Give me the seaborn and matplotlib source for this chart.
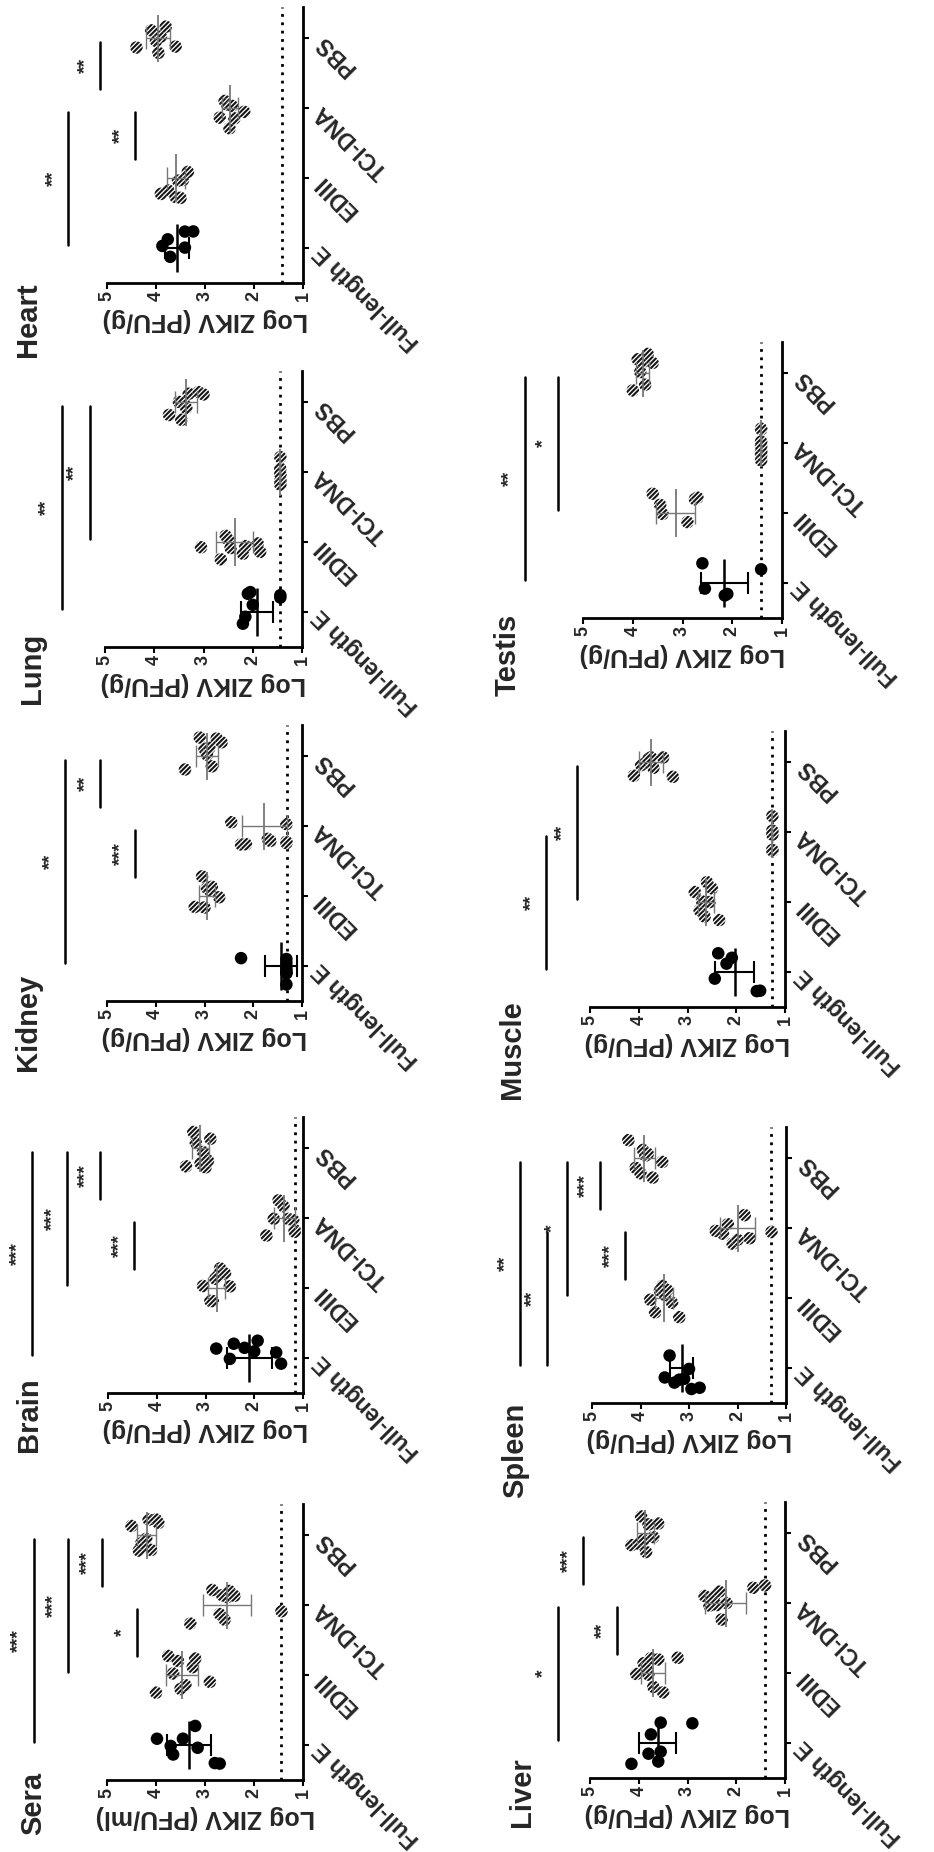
import numpy as np
import pandas as pd
import matplotlib
matplotlib.use("Agg")
import matplotlib.pyplot as plt
import seaborn as sns

sns.set_theme(style="ticks")
plt.rcParams["font.family"] = ["Liberation Sans", "DejaVu Sans"]
plt.rcParams["hatch.linewidth"] = 1.5

# ---------------- data ----------------
groups = ["Full-length E", "EDIII", "TCI-DNA", "PBS"]
organs = ["Heart", "Lung", "Kidney", "Brain", "Sera", "Testis", "Muscle", "Spleen", "Liver"]

sera_fle = [3.98, 3.70, 3.65, 3.45, 3.20, 3.15, 2.80, 2.70]
sera_ediii = [4.00, 3.75, 3.65, 3.55, 3.50, 3.40, 3.25, 3.20, 2.90]
sera_tci = [3.30, 2.85, 2.70, 2.65, 2.60, 2.55, 2.50, 2.40, 1.44]
sera_pbs = [4.50, 4.35, 4.30, 4.20, 4.15, 4.10, 4.00, 3.95]

brain_fle = [2.78, 2.50, 2.42, 2.20, 2.00, 1.93, 1.55, 1.45]
brain_ediii = [3.05, 2.90, 2.85, 2.80, 2.75, 2.70, 2.60, 2.50]
brain_tci = [1.75, 1.60, 1.50, 1.40, 1.30, 1.20, 1.17, 1.17]
brain_pbs = [3.40, 3.25, 3.20, 3.10, 3.05, 3.00, 2.95, 2.90]

kidney_fle = [2.25, 1.32, 1.32, 1.32, 1.32, 1.32, 1.32, 1.32]
kidney_ediii = [3.20, 3.05, 3.00, 2.95, 2.90, 2.85, 2.70]
kidney_tci = [2.45, 2.25, 2.15, 1.70, 1.65, 1.32, 1.32, 1.32]
kidney_pbs = [3.40, 3.10, 3.00, 2.95, 2.90, 2.85, 2.75, 2.65]

lung_fle = [2.20, 2.15, 2.10, 2.05, 2.00, 1.44, 1.44]
lung_ediii = [3.05, 2.65, 2.55, 2.50, 2.45, 2.20, 2.15, 1.90, 1.85]
lung_tci = [1.44, 1.44, 1.44, 1.44, 1.44, 1.44, 1.44, 1.44]
lung_pbs = [3.70, 3.50, 3.45, 3.40, 3.35, 3.30, 3.10, 3.00]

heart_fle = [3.87, 3.76, 3.71, 3.41, 3.41, 3.24]
heart_ediii = [3.90, 3.75, 3.60, 3.55, 3.50, 3.45, 3.35]
heart_tci = [2.70, 2.60, 2.55, 2.50, 2.45, 2.40, 2.20]
heart_pbs = [4.40, 4.10, 4.00, 3.95, 3.90, 3.80, 3.60]

liver_fle = [4.15, 3.80, 3.75, 3.60, 3.55, 3.55, 2.90]
liver_ediii = [4.05, 3.90, 3.85, 3.80, 3.75, 3.70, 3.60, 3.50, 3.20]
liver_tci = [2.65, 2.55, 2.45, 2.40, 2.35, 2.30, 2.20, 1.65, 1.41]
liver_pbs = [4.15, 4.00, 3.95, 3.90, 3.85, 3.80, 3.70, 3.60]

spleen_fle = [3.50, 3.40, 3.30, 3.20, 3.10, 3.00, 2.95, 2.78]
spleen_ediii = [3.80, 3.70, 3.60, 3.55, 3.50, 3.45, 3.35, 3.20]
spleen_tci = [2.45, 2.30, 2.20, 2.10, 2.00, 1.85, 1.75, 1.30]
spleen_pbs = [4.25, 4.10, 4.00, 3.95, 3.90, 3.85, 3.75, 3.55]

muscle_fle = [2.44, 2.37, 2.20, 2.09, 1.58, 1.51]
muscle_ediii = [2.85, 2.75, 2.70, 2.65, 2.60, 2.55, 2.50, 2.35]
muscle_tci = [1.26, 1.26, 1.26, 1.26, 1.26, 1.26, 1.26, 1.26]
muscle_pbs = [4.10, 3.95, 3.85, 3.80, 3.75, 3.70, 3.50, 3.30]

testis_fle = [2.60, 2.55, 2.15, 2.10, 1.42]
testis_ediii = [3.60, 3.45, 3.40, 2.90, 2.75, 2.70]
testis_tci = [1.42, 1.42, 1.42, 1.42, 1.42, 1.42, 1.42, 1.42]
testis_pbs = [4.00, 3.90, 3.85, 3.80, 3.75, 3.70, 3.60]

values = {
    "Sera": [sera_fle, sera_ediii, sera_tci, sera_pbs],
    "Brain": [brain_fle, brain_ediii, brain_tci, brain_pbs],
    "Kidney": [kidney_fle, kidney_ediii, kidney_tci, kidney_pbs],
    "Lung": [lung_fle, lung_ediii, lung_tci, lung_pbs],
    "Heart": [heart_fle, heart_ediii, heart_tci, heart_pbs],
    "Liver": [liver_fle, liver_ediii, liver_tci, liver_pbs],
    "Spleen": [spleen_fle, spleen_ediii, spleen_tci, spleen_pbs],
    "Muscle": [muscle_fle, muscle_ediii, muscle_tci, muscle_pbs],
    "Testis": [testis_fle, testis_ediii, testis_tci, testis_pbs],
}

# limit of detection per organ
lod = {"Sera": 1.44, "Brain": 1.17, "Kidney": 1.30, "Lung": 1.44, "Heart": 1.42,
       "Liver": 1.41, "Spleen": 1.30, "Muscle": 1.26, "Testis": 1.42}

# significance brackets: (group a, group b, level, label)
sig = {
    "Sera": [(0, 3, 6.50, "***"), (1, 3, 5.79, "***"), (2, 3, 5.10, "***"), (1, 2, 4.39, "*")],
    "Brain": [(0, 3, 6.56, "***"), (1, 3, 5.84, "***"), (2, 3, 5.16, "***"), (1, 2, 4.47, "***")],
    "Kidney": [(0, 3, 5.86, "**"), (1, 2, 4.43, "***"), (2, 3, 5.14, "**")],
    "Lung": [(0, 3, 5.88, "**"), (1, 3, 5.31, "**")],
    "Heart": [(0, 2, 5.80, "**"), (1, 2, 4.43, "**"), (2, 3, 5.14, "**")],
    "Liver": [(0, 2, 5.66, "*"), (1, 2, 4.45, "**"), (2, 3, 5.14, "***")],
    "Spleen": [(0, 3, 6.48, "**"), (0, 2, 5.93, "**"), (1, 3, 5.51, "*"), (2, 3, 4.84, "***"), (1, 2, 4.32, "***")],
    "Muscle": [(0, 2, 5.90, "**"), (1, 3, 5.27, "**")],
    "Testis": [(0, 3, 6.17, "**"), (1, 3, 5.50, "*")],
}

ylabels = {o: "Log ZIKV (PFU/g)" for o in organs}
ylabels["Sera"] = "Log ZIKV (PFU/ml)"
value_ticks = [1, 2, 3, 4, 5]

# ---------------- layout (pixels, figure is the original rotated 90 deg CCW) ----------------
W, H = 934, 1852
AX_H = 276
# x of value 5, x of value 1, y of value axis, title centre x, title centre y
layout = {
    "Heart": (107, 303, 283, 28, 320),
    "Lung": (105, 302, 647, 32, 668),
    "Kidney": (107, 302, 1001, 28, 1022),
    "Brain": (108, 303, 1393, 29, 1415),
    "Sera": (107, 303, 1780, 33, 1803),
    "Testis": (583, 782, 618, 508, 655),
    "Muscle": (590, 785, 1007, 512, 1050),
    "Spleen": (592, 786, 1403, 515, 1450),
    "Liver": (590, 785, 1778, 522, 1792),
}

palette = {"Full-length E": "black", "EDIII": "#7a7a7a", "TCI-DNA": "#7a7a7a", "PBS": "#7a7a7a"}

np.random.seed(3)
fig = plt.figure(figsize=(W / 100, H / 100), dpi=100)
fig.patch.set_facecolor("white")

for organ in organs:
    x5, x1, sp, tx, ty = layout[organ]
    ax = fig.add_axes([x5 / W, (H - sp) / H, (x1 - x5) / W, AX_H / H])
    vals = values[organ]
    df = pd.DataFrame({
        "group": np.repeat(groups, [len(v) for v in vals]),
        "value": np.concatenate([np.asarray(v, float) for v in vals]),
    })
    sns.stripplot(data=df, x="value", y="group", order=groups, hue="group",
                  hue_order=groups, palette=palette, orient="h", jitter=0.3,
                  size=9, linewidth=0, legend=False, ax=ax, zorder=3)
    for coll in ax.collections:
        fc = coll.get_facecolor()
        if len(fc) and fc[0][0] > 0.2:
            coll.set_facecolor("white")
            coll.set_edgecolor("#151515")
            coll.set_hatch("///////")
            coll.set_linewidth(0)

    # mean +/- SD
    for i, v in enumerate(vals):
        v = np.asarray(v, float)
        m, s = v.mean(), v.std(ddof=1)
        c = "black" if i == 0 else "#777777"
        lw = 1.8 if i == 0 else 1.3
        ax.vlines(m, i - 0.34, i + 0.34, color=c, lw=lw, zorder=4)
        ax.errorbar(m, i, xerr=s, fmt="none", ecolor=c, elinewidth=lw - 0.3,
                    capsize=8, capthick=lw - 0.3, zorder=4)

    ax.axvline(lod[organ], color="black", ls=(0, (1.0, 2.0)), lw=2.0, zorder=2)

    ax.set_xlim(5, 1)
    ax.set_ylim(-0.5, 3.45)
    ax.set_facecolor("white")
    for s_ in ["left", "top"]:
        ax.spines[s_].set_visible(False)
    for s_ in ["right", "bottom"]:
        ax.spines[s_].set_linewidth(2)
        ax.spines[s_].set_color("black")
    ax.yaxis.tick_right()
    ax.yaxis.set_label_position("right")
    ax.set_ylabel("")
    ax.set_yticks(range(len(groups)))
    ax.set_yticklabels(groups, rotation=135, rotation_mode="anchor", ha="right",
                       va="center", fontsize=16.5, fontweight="bold")
    ax.set_xticks(value_ticks)
    ax.set_xticklabels([str(t) for t in value_ticks], rotation=90, fontsize=13,
                       fontweight="bold")
    ax.tick_params(axis="both", length=4, width=1.5, color="black")
    ax.tick_params(axis="y", pad=7)
    ax.tick_params(axis="x", pad=2)
    ax.set_xlabel(ylabels[organ], rotation=180, fontsize=18, fontweight="bold",
                  labelpad=5)

    # significance brackets
    for a, b, lvl, lab in sig[organ]:
        if b - a == 1:
            y0, y1 = a + 0.27, b - 0.05
        else:
            y0, y1 = a + 0.05, b - 0.05
        ax.plot([lvl, lvl], [y0, y1], color="black", lw=1.8, clip_on=False)
        ax.text(lvl + 0.3, (y0 + y1) / 2, lab, rotation=90, ha="center",
                va="center", fontsize=14, fontweight="bold", clip_on=False)

    fig.text(tx / W, 1 - ty / H, organ, rotation=90, ha="center", va="center",
             fontsize=21, fontweight="bold")

fig.savefig("out.png", dpi=100, facecolor="white")
